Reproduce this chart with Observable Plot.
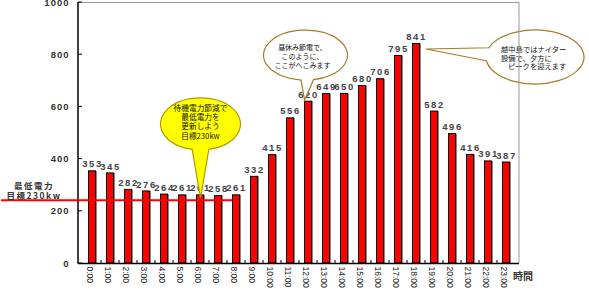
<!DOCTYPE html>
<html>
<head>
<meta charset="utf-8">
<script src="https://cdn.jsdelivr.net/npm/d3@7"></script>
<script src="https://cdn.jsdelivr.net/npm/@observablehq/plot@0.6"></script>
<style>
  html, body { margin: 0; padding: 0; background: #fff; }
  svg { display: block; }
</style>
</head>
<body>
<div id="chart"></div>
<script>
const hours = ["0:00","1:00","2:00","3:00","4:00","5:00","6:00","7:00","8:00","9:00","10:00","11:00",
  "12:00","13:00","14:00","15:00","16:00","17:00","18:00","19:00","20:00","21:00","22:00","23:00"];
const power = [353,345,282,276,264,261,261,258,261,332,415,556,620,649,650,680,706,795,841,582,496,416,391,387];
const yTicks = [0, 200, 400, 600, 800, 1000];
const targetLineValue = 240;       // red line as drawn
const targetLineEndHour = "8:00";  // line runs up to this bar
const targetLabel = ["最低電力", "目標230kw"];
const xAxisLabel = "時間";

const callouts = [
  {hour: "6:00", lines: ["待機電力節減で", "最低電力を", "更新しよう", "目標230kw"],
   fill: "#ffff00", stroke: "#b09a00"},
  {hour: "12:00", lines: ["昼休み節電で、", "このように、", "ここがへこみます"],
   fill: "#ffffff", stroke: "#a57a28"},
  {hour: "18:00", lines: ["越中島ではナイター", "設備で、夕方に", "ピークを迎えます"],
   fill: "#ffffff", stroke: "#a57a28"}
];

const data = hours.map((h, i) => ({hour: h, value: power[i]}));

const svg = Plot.plot({
  width: 589,
  height: 292,
  marginLeft: 78,
  marginRight: 70,
  marginTop: 2,
  marginBottom: 29,
  style: {fontFamily: "'Liberation Sans', Arial, sans-serif", background: "#fff"},
  x: {domain: hours, padding: 0, label: null},
  y: {domain: [0, 1000], label: null},
  marks: [
    Plot.ruleY([1000], {stroke: "#999", strokeWidth: 1}),
    Plot.barY(data, {x: "hour", y: "value", fill: "#888", insetLeft: 7, insetRight: 4}),
    Plot.barY(data, {x: "hour", y: "value", fill: "#ff0000", stroke: "#000", strokeWidth: 1, insetLeft: 5.5, insetRight: 5.5}),
    Plot.text(data, {x: "hour", y: "value", text: d => String(d.value), dy: -7, fontSize: 9.5, fill: "#444", fontWeight: "bold"}),
    Plot.axisY({ticks: yTicks, tickFormat: d => String(d), tickSize: 0, tickPadding: 9, fontSize: 9.5, fill: "#333", fontWeight: "bold", label: null}),
    Plot.axisX({tickSize: 0, tickRotate: 90, tickPadding: 3, dx: -3, fontSize: 8.5, fill: "#222", label: null}),
    Plot.ruleY([0], {stroke: "#000", strokeWidth: 1.5})
  ]
});

const xs = svg.scale("x");
const ys = svg.scale("y");
const root = d3.select(svg);

// letter spacing on numbers
root.selectAll('g[aria-label="text"] text').attr("letter-spacing", 1.5);
root.selectAll('g[aria-label="y-axis tick label"] text').attr("letter-spacing", 1);

const x0 = xs.range[0], x1 = xs.range[1];
const yTop = ys.apply(1000), yBot = ys.apply(0);
const gExtra = root.append("g");

// left axis line
gExtra.append("line").attr("x1", x0).attr("x2", x0).attr("y1", yTop).attr("y2", yBot + 0.5).attr("stroke", "#000").attr("stroke-width", 1.5);
// inner y ticks
yTicks.forEach(t => {
  gExtra.append("line").attr("x1", x0).attr("x2", x0 + 4).attr("y1", ys.apply(t)).attr("y2", ys.apply(t)).attr("stroke", "#000");
});
// x ticks at band boundaries
hours.slice(1).forEach(h => {
  const xx = xs.apply(h);
  gExtra.append("line").attr("x1", xx).attr("x2", xx).attr("y1", yBot).attr("y2", yBot - 3).attr("stroke", "#000");
});

// target line
const yT = ys.apply(targetLineValue);
gExtra.append("line").attr("x1", 1).attr("x2", xs.apply(targetLineEndHour) + 5)
  .attr("y1", yT).attr("y2", yT).attr("stroke", "#ff0000").attr("stroke-width", 2);

// target label
const tl = gExtra.append("text").attr("font-family", "'Noto Sans CJK JP', sans-serif")
  .attr("font-size", 8.5).attr("fill", "#333").attr("font-weight", "bold").attr("text-anchor", "middle")
  .attr("letter-spacing", 1.5);
tl.append("tspan").attr("x", 34).attr("y", 189).text(targetLabel[0]);
tl.append("tspan").attr("x", 34).attr("y", 199).text(targetLabel[1]);

// x axis title
gExtra.append("text").attr("x", 523).attr("y", 280).attr("font-family", "'Noto Sans CJK JP', sans-serif")
  .attr("font-size", 10).attr("font-weight", "bold").attr("fill", "#333").text(xAxisLabel);

// callouts: geometry relative to the tip at the bar top
const geo = [
  {tipDx: 0.5, tipDy: 3, dx: 0.5, dy: -71, rx: 40, ry: 26, a: 78, b: 102, fs: 7.7, lh: 9.3, ty0: -15, anchor: "middle", tx: [0,0,0,0]},
  {tipDx: -3.5, tipDy: -1, dx: -2.5, dy: -46, rx: 42, ry: 25, a: 79, b: 96, fs: 7, lh: 9, ty0: -7, anchor: "middle", tx: [-3,-3,-3]},
  {tipDx: 10, tipDy: 5.5, dx: 119, dy: 13.5, rx: 49, ry: 27, a: 172, b: 200, fs: 7.3, lh: 8.7, ty0: -7, anchor: "start", tx: [-34,-34,-27]}
];
callouts.forEach((c, i) => {
  const g = geo[i];
  const bx = xs.apply(c.hour) + xs.bandwidth / 2;
  const by = ys.apply(power[hours.indexOf(c.hour)]);
  const tip = [bx + g.tipDx, by + g.tipDy];
  const cx = bx + g.dx, cy = by + g.dy;
  const pt = deg => [cx + g.rx * Math.cos(deg * Math.PI / 180), cy + g.ry * Math.sin(deg * Math.PI / 180)];
  const A = pt(g.a), B = pt(g.b);
  const d = `M${A[0]},${A[1]}L${tip[0]},${tip[1]}L${B[0]},${B[1]}A${g.rx},${g.ry} 0 1 1 ${A[0]},${A[1]}Z`;
  gExtra.append("path").attr("d", d).attr("fill", c.fill).attr("stroke", c.stroke).attr("stroke-width", 1.2);
  const t = gExtra.append("text").attr("font-family", "'Noto Sans CJK JP', sans-serif")
    .attr("font-size", g.fs).attr("fill", "#111").attr("text-anchor", g.anchor).attr("dominant-baseline", "middle");
  c.lines.forEach((ln, j) => {
    t.append("tspan").attr("x", cx + g.tx[j]).attr("y", cy + g.ty0 + j * g.lh).text(ln);
  });
});
// right frame over the callout
gExtra.append("line").attr("x1", x1).attr("x2", x1).attr("y1", yTop).attr("y2", yBot).attr("stroke", "#999");

document.getElementById("chart").appendChild(svg);
</script>
</body>
</html>
